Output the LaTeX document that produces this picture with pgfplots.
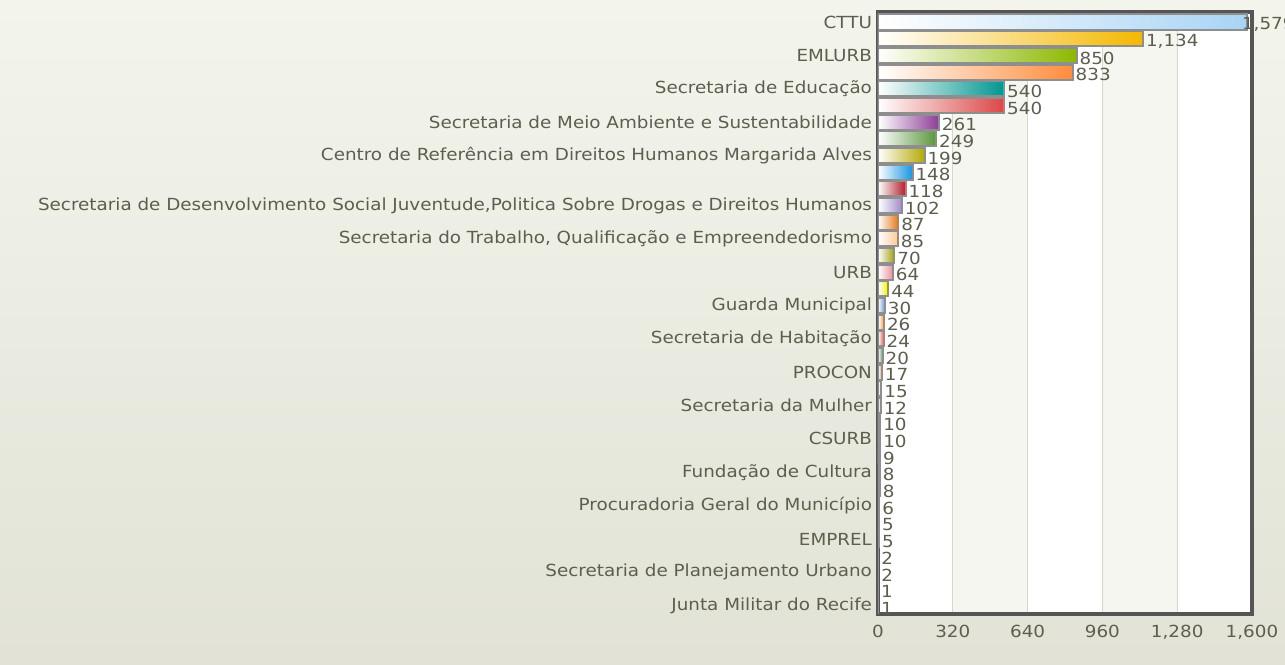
\documentclass[border=0pt]{standalone}
\usepackage{pgfplots}
\pgfplotsset{compat=1.18}
\usepackage{fontspec}
\setmainfont{DejaVu Sans}[FakeStretch=1.1]

\definecolor{bgtop}{HTML}{F3F4EC}
\definecolor{bgbot}{HTML}{E2E3D6}
\definecolor{band}{HTML}{F5F6F0}
\definecolor{gridc}{HTML}{D6D7CC}
\definecolor{frame}{HTML}{555555}
\definecolor{txt}{HTML}{5E5E4E}
\definecolor{edge}{HTML}{8E8E8E}
\definecolor{cA}{HTML}{A8D4F5}
\definecolor{cB}{HTML}{F4B800}
\definecolor{cC}{HTML}{8CB800}
\definecolor{cD}{HTML}{FF8C3C}
\definecolor{cE}{HTML}{009690}
\definecolor{cF}{HTML}{DC4646}
\definecolor{cG}{HTML}{8C3C96}
\definecolor{cH}{HTML}{5A963C}
\definecolor{cI}{HTML}{B4AA00}
\definecolor{cJ}{HTML}{1496E6}
\definecolor{cK}{HTML}{B41E28}
\definecolor{cL}{HTML}{A08CC8}
\definecolor{cM}{HTML}{E67814}
\definecolor{cN}{HTML}{FFC896}
\definecolor{cO}{HTML}{A0A014}
\definecolor{cP}{HTML}{F08CA0}
\definecolor{cQ}{HTML}{F0F000}
\definecolor{cR}{HTML}{5A96DC}
\definecolor{cS}{HTML}{F0A050}
\definecolor{cT}{HTML}{E66450}
\definecolor{cU}{HTML}{50A050}
\definecolor{cV}{HTML}{D2A082}

\begin{document}
\begin{tikzpicture}[font=\fontsize{12.5}{14}\selectfont]
% background of the whole picture (1px = 0.75pt)
\shade[top color=bgtop, bottom color=bgbot] (-658.5pt,-37.5pt) rectangle (305.25pt,460.5pt);
\path[use as bounding box] (-658.5pt,-37.5pt) rectangle (305.25pt,460.5pt);
% plot area: white with light bands between every second pair of grid lines
\fill[white] (0,0) rectangle (280.5pt,451.5pt);
\fill[band] (56.1pt,0) rectangle (112.2pt,451.5pt);
\fill[band] (168.3pt,0) rectangle (224.4pt,451.5pt);
\begin{axis}[
  at={(0,0)}, anchor=south west,
  scale only axis, width=280.5pt, height=451.5pt,
  xmin=0, xmax=1600, ymin=0.4, ymax=36.5, y dir=reverse,
  xbar, bar width=11.3pt, bar shift=0pt,
  axis line style={draw=frame, line width=2.4pt},
  xmajorgrids, major grid style={draw=gridc, line width=0.75pt},
  major tick length=0pt,
  xtick={0,320,640,960,1280,1600},
  ytick={1,3,5,7,9,12,14,16,18,20,22,24,26,28,30,32,34,36},
  yticklabels={CTTU, EMLURB, Secretaria de Educação,
    Secretaria de Meio Ambiente e Sustentabilidade,
    Centro de Referência em Direitos Humanos Margarida Alves,
    {Secretaria de Desenvolvimento Social Juventude,Politica Sobre Drogas e Direitos Humanos},
    {Secretaria do Trabalho, Qualificação e Empreendedorismo},
    URB, Guarda Municipal, Secretaria de Habitação, PROCON,
    Secretaria da Mulher, CSURB, Fundação de Cultura,
    Procuradoria Geral do Município, EMPREL,
    Secretaria de Planejamento Urbano, Junta Militar do Recife},
  ticklabel style={text=txt},
  yticklabel style={xshift=-1pt},
  xticklabel style={yshift=-5pt},
  /pgf/number format/1000 sep={,},
  /pgf/number format/assume math mode=true,
  every axis plot/.append style={draw=edge, line width=1.5pt},
  nodes near coords, point meta=x,
  every node near coord/.append style={anchor=west, text=txt, inner sep=1pt, yshift=-2pt, xshift=0.5pt},
]
\addplot[left color=white, right color=cA, every node near coord/.append style={xshift=-6pt}] coordinates {(1579,1)};
\addplot[left color=white, right color=cB] coordinates {(1134,2)};
\addplot[left color=white, right color=cC] coordinates {(850,3)};
\addplot[left color=white, right color=cD] coordinates {(833,4)};
\addplot[left color=white, right color=cE] coordinates {(540,5)};
\addplot[left color=white, right color=cF] coordinates {(540,6)};
\addplot[left color=white, right color=cG] coordinates {(261,7)};
\addplot[left color=white, right color=cH] coordinates {(249,8)};
\addplot[left color=white, right color=cI] coordinates {(199,9)};
\addplot[left color=white, right color=cJ] coordinates {(148,10)};
\addplot[left color=white, right color=cK] coordinates {(118,11)};
\addplot[left color=white, right color=cL] coordinates {(102,12)};
\addplot[left color=white, right color=cM] coordinates {(87,13)};
\addplot[left color=white, right color=cN] coordinates {(85,14)};
\addplot[left color=white, right color=cO] coordinates {(70,15)};
\addplot[left color=white, right color=cP] coordinates {(64,16)};
\addplot[left color=white, right color=cQ] coordinates {(44,17)};
\addplot[left color=white, right color=cR] coordinates {(30,18)};
\addplot[left color=white, right color=cS] coordinates {(26,19)};
\addplot[left color=white, right color=cT] coordinates {(24,20)};
\addplot[left color=white, right color=cU] coordinates {(20,21)};
\addplot[left color=white, right color=cV] coordinates {(17,22)};
\addplot[left color=white, right color=cA] coordinates {(15,23)};
\addplot[left color=white, right color=cB] coordinates {(12,24)};
\addplot[left color=white, right color=cC] coordinates {(10,25)};
\addplot[left color=white, right color=cD] coordinates {(10,26)};
\addplot[left color=white, right color=cE] coordinates {(9,27)};
\addplot[left color=white, right color=cF] coordinates {(8,28)};
\addplot[left color=white, right color=cG] coordinates {(8,29)};
\addplot[left color=white, right color=cH] coordinates {(6,30)};
\addplot[left color=white, right color=cI] coordinates {(5,31)};
\addplot[left color=white, right color=cJ] coordinates {(5,32)};
\addplot[left color=white, right color=cK] coordinates {(2,33)};
\addplot[left color=white, right color=cL] coordinates {(2,34)};
\addplot[left color=white, right color=cM] coordinates {(1,35)};
\addplot[left color=white, right color=cN] coordinates {(1,36)};
\end{axis}
\end{tikzpicture}
\end{document}
